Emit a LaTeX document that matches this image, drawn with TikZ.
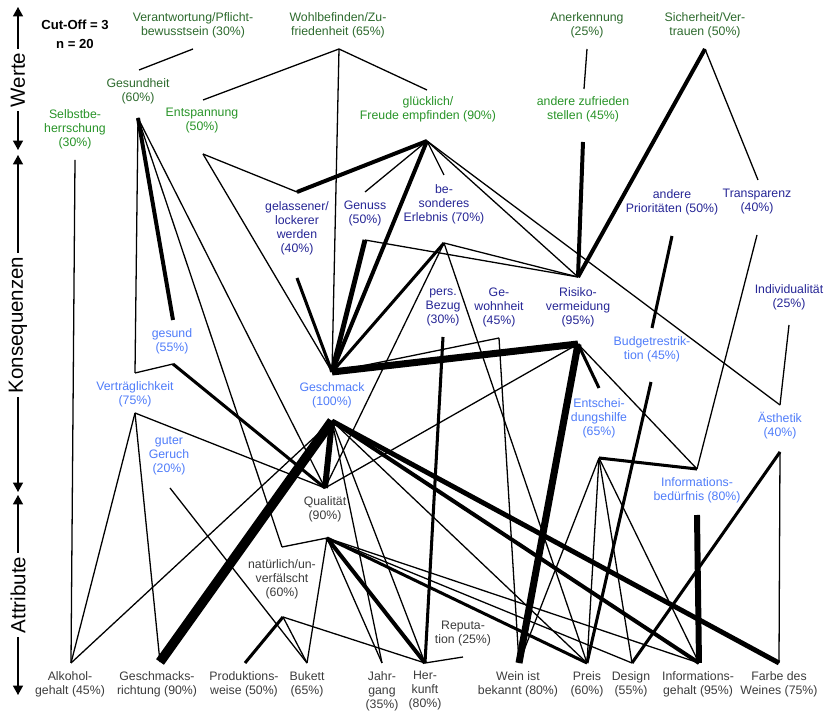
\documentclass[tikz,border=0pt]{standalone}
\usepackage{fontspec}
\setmainfont{Liberation Sans}
\usetikzlibrary{arrows.meta}
\definecolor{tval}{RGB}{46,107,46}
\definecolor{ival}{RGB}{40,148,40}
\definecolor{psy}{RGB}{38,38,150}
\definecolor{fun}{RGB}{80,125,250}
\definecolor{attr}{RGB}{60,60,60}
\begin{document}
\begin{tikzpicture}[x=0.03cm,y=-0.03cm,
  lbl/.style={align=center,inner sep=0pt,font=\fontsize{10.5}{11.95}\selectfont},
  tv/.style={lbl,text=tval},
  iv/.style={lbl,text=ival},
  ps/.style={lbl,text=psy},
  fu/.style={lbl,text=fun},
  atr/.style={lbl,text=attr},
  l1/.style={line width=1.1pt},
  l3/.style={line width=2.6pt},
  l4/.style={line width=3.4pt},
  l5/.style={line width=4.2pt},
  l6/.style={line width=5.1pt},
  l7/.style={line width=6pt},
  l9/.style={line width=8.2pt},
  axis/.style={line width=1.1pt,{Triangle[width=8.5pt,length=8pt]}-{Triangle[width=8.5pt,length=8pt]}},
  axlbl/.style={fill=white,rotate=90,inner sep=3pt,font=\fontsize{17.5}{20}\selectfont}
]
\useasboundingbox (0,0) rectangle (826,713);
\fill[white] (0,0) rectangle (826,713);

% ---------- anchors ----------
\coordinate (veranB) at (193,49);
\coordinate (wohlB) at (339,49);
\coordinate (anerkB) at (587,49);
\coordinate (sicherB) at (705,49);
\coordinate (gesheitT) at (139,70);
\coordinate (gesheitB) at (138,118);
\coordinate (selbstB) at (75,160);
\coordinate (entspT) at (203,100);
\coordinate (entspB) at (203,154);
\coordinate (gluckT) at (427,90);
\coordinate (gluckB) at (427,141);
\coordinate (andzT) at (584,89);
\coordinate (andzB) at (583,142);
\coordinate (gelT) at (297,192);
\coordinate (gelB) at (297,278);
\coordinate (genT) at (365,192);
\coordinate (genB) at (365,240);
\coordinate (besT) at (444,175);
\coordinate (besB) at (444,243);
\coordinate (andpB) at (672,236);
\coordinate (transT) at (758,180);
\coordinate (transB) at (757,235);
\coordinate (indivB) at (789,325);
\coordinate (risT) at (578,277);
\coordinate (risB) at (578,344);
\coordinate (persB) at (443,337);
\coordinate (gewB) at (499,338);
\coordinate (budT) at (652,328);
\coordinate (budB) at (651,382);
\coordinate (entT) at (599,388);
\coordinate (entB) at (599,458);
\coordinate (aesT) at (780,405);
\coordinate (aesB) at (780,452);
\coordinate (infbT) at (697,469);
\coordinate (infbB) at (697,515);
\coordinate (gesT) at (173,320);
\coordinate (gesB) at (173,364);
\coordinate (vertT) at (135,373);
\coordinate (vertB) at (135,413);
\coordinate (geschT) at (332,372);
\coordinate (geschB) at (332,421);
\coordinate (geruchB) at (170,488);
\coordinate (qualT) at (325,488);
\coordinate (qualB) at (327,538);
\coordinate (natT) at (282,547);
\coordinate (natB) at (283,617);
\coordinate (repB) at (463,657);
\coordinate (alkT) at (71,663);
\coordinate (gsrT) at (160,662);
\coordinate (prodT) at (245,663);
\coordinate (bukT) at (307,663);
\coordinate (jahrT) at (382,663);
\coordinate (herkT) at (425,663);
\coordinate (weinT) at (519,663);
\coordinate (preisT) at (587,663);
\coordinate (desT) at (632,663);
\coordinate (infgT) at (699,663);
\coordinate (farbT) at (779,663);

% ---------- connectors ----------
\draw[l1] (veranB) -- (gesheitT);
\draw[l1] (wohlB) -- (entspT);
\draw[l1] (wohlB) -- (geschT);
\draw[l1] (wohlB) -- (gluckT);
\draw[l1] (anerkB) -- (andzT);
\draw[l4] (sicherB) -- (risT);
\draw[l1] (sicherB) -- (transT);
\draw[l1] (gesheitB) -- (vertT);
\draw[l4] (gesheitB) -- (gesT);
\draw[l1] (gesheitB) -- (natT);
\draw[l1] (gesheitB) -- (qualT);
\draw[l1] (selbstB) -- (alkT);
\draw[l1] (entspB) -- (gelT);
\draw[l1] (entspB) -- (geschT);
\draw[l4] (gluckB) -- (gelT);
\draw[l1] (gluckB) -- (genT);
\draw[l1] (gluckB) -- (besT);
\draw[l4] (gluckB) -- (geschT);
\draw[l1] (gluckB) -- (risT);
\draw[l1] (gluckB) -- (aesT);
\draw[l4] (andzB) -- (risT);
\draw[l3] (gelB) -- (geschT);
\draw[l5] (genB) -- (geschT);
\draw[l1] (genB) -- (risT);
\draw[l3] (besB) -- (geschT);
\draw[l1] (besB) -- (risT);
\draw[l1] (besB) -- (qualT);
\draw[l1] (besB) -- (preisT);
\draw[l3] (andpB) -- (budT);
\draw[l1] (transB) -- (infbT);
\draw[l1] (indivB) -- (aesT);
\draw[l7] (risB) -- (geschT);
\draw[l7] (risB) -- (weinT);
\draw[l3] (risB) -- (entT);
\draw[l1] (risB) -- (infbT);
\draw[l1] (risB) -- (qualT);
\draw[l1] (gewB) -- (geschT);
\draw[l1] (gewB) -- (weinT);
\draw[l3] (persB) -- (herkT);
\draw[l3] (budB) -- (preisT);
\draw[l3] (entB) -- (infbT);
\draw[l1] (entB) -- (weinT);
\draw[l1] (entB) -- (preisT);
\draw[l1] (entB) -- (desT);
\draw[l1] (entB) -- (infgT);
\draw[l3] (aesB) -- (desT);
\draw[l1] (aesB) -- (farbT);
\draw[l6] (infbB) -- (infgT);
\draw[l1] (gesB) -- (vertT);
\draw[l3] (gesB) -- (qualT);
\draw[l1] (vertB) -- (alkT);
\draw[l1] (vertB) -- (gsrT);
\draw[l1] (vertB) -- (qualT);
\draw[l1] (geruchB) -- (bukT);
\draw[l9] (geschB) -- (gsrT);
\draw[l6] (geschB) -- (qualT);
\draw[l1] (geschB) -- (alkT);
\draw[l5] (geschB) -- (farbT);
\draw[l4] (geschB) -- (infgT);
\draw[l1] (geschB) -- (preisT);
\draw[l1] (geschB) -- (jahrT);
\draw[l1] (geschB) -- (herkT);
\draw[l1] (qualB) -- (natT);
\draw[l1] (qualB) -- (bukT);
\draw[l1] (qualB) -- (jahrT);
\draw[l4] (qualB) -- (herkT);
\draw[l3] (qualB) -- (preisT);
\draw[l1] (qualB) -- (desT);
\draw[l1] (qualB) -- (infgT);
\draw[l3] (natB) -- (prodT);
\draw[l1] (natB) -- (bukT);
\draw[l1] (natB) -- (herkT);
\draw[l1] (herkT) -- (repB);

% ---------- axis ----------
\coordinate (ax1) at (18,7);
\coordinate (ax2) at (18,150);
\coordinate (ax3) at (18,155);
\coordinate (ax4) at (18,492);
\coordinate (ax5) at (18,495);
\coordinate (ax6) at (18,695);
\draw[axis] (ax1) -- (ax2);
\draw[axis] (ax3) -- (ax4);
\draw[axis] (ax5) -- (ax6);
\node[axlbl] (werte) at (18,80) {Werte};
\node[axlbl] (kons) at (18,325) {Konsequenzen};
\node[axlbl] (attrib) at (18,595) {Attribute};

% ---------- labels ----------
\node[lbl,font=\bfseries\fontsize{11.2}{16}\selectfont] (cut) at (75,34) {Cut-Off = 3\\n = 20};
\node[tv] (veran) at (193,25) {Verantwortung/Pflicht-\\bewusstsein (30\%)};
\node[tv] (wohl) at (338,25) {Wohlbefinden/Zu-\\friedenheit (65\%)};
\node[tv] (anerk) at (587,25) {Anerkennung\\(25\%)};
\node[tv] (sicher) at (705,25) {Sicherheit/Ver-\\trauen (50\%)};
\node[tv] (gesheit) at (138,91) {Gesundheit\\(60\%)};
\node[iv] (selbst) at (75,129) {Selbstbe-\\herrschung\\(30\%)};
\node[iv] (entsp) at (202,121) {Entspannung\\(50\%)};
\node[iv] (gluck) at (428,109) {glücklich/\\Freude empfinden (90\%)};
\node[iv] (andz) at (583,109) {andere zufrieden\\stellen (45\%)};
\node[ps] (gel) at (297,228.5) {gelassener/\\lockerer\\werden\\(40\%)};
\node[ps] (gen) at (365,213) {Genuss\\(50\%)};
\node[ps] (bes) at (444,204) {be-\\sonderes\\Erlebnis (70\%)};
\node[ps] (andp) at (672,202) {andere\\Prioritäten (50\%)};
\node[ps] (trans) at (757,202) {Transparenz\\(40\%)};
\node[ps] (indiv) at (789,297.5) {Individualität\\(25\%)};
\node[ps] (pers) at (443,307) {pers.\\Bezug\\(30\%)};
\node[ps] (gew) at (499,307) {Ge-\\wohnheit\\(45\%)};
\node[ps] (ris) at (578,307) {Risiko-\\vermeidung\\(95\%)};
\node[fu] (bud) at (652,349) {Budgetrestrik-\\tion (45\%)};
\node[fu] (ent) at (599,418) {Entschei-\\dungshilfe\\(65\%)};
\node[fu] (aes) at (780,426) {Ästhetik\\(40\%)};
\node[fu] (infb) at (697,490) {Informations-\\bedürfnis (80\%)};
\node[fu] (ges) at (172,341) {gesund\\(55\%)};
\node[fu] (vert) at (135,394) {Verträglichkeit\\(75\%)};
\node[fu] (gesch) at (332,395) {Geschmack\\(100\%)};
\node[fu] (geruch) at (169,456) {guter\\Geruch\\(20\%)};
\node[atr] (qual) at (325,509.5) {Qualität\\(90\%)};
\node[atr] (nat) at (282,579) {natürlich/un-\\verfälscht\\(60\%)};
\node[atr] (rep) at (463,633.5) {Reputa-\\tion (25\%)};
\node[atr] (alk) at (70,684) {Alkohol-\\gehalt (45\%)};
\node[atr] (gsr) at (157,684) {Geschmacks-\\richtung (90\%)};
\node[atr] (prod) at (244,684) {Produktions-\\weise (50\%)};
\node[atr] (buk) at (307,684) {Bukett\\(65\%)};
\node[atr] (jahr) at (382,691) {Jahr-\\gang\\(35\%)};
\node[atr] (herk) at (425,691) {Her-\\kunft\\(80\%)};
\node[atr] (wein) at (518,684) {Wein ist\\bekannt (80\%)};
\node[atr] (preis) at (587,684) {Preis\\(60\%)};
\node[atr] (des) at (631,684) {Design\\(55\%)};
\node[atr] (infg) at (698,684) {Informations-\\gehalt (95\%)};
\node[atr] (farb) at (779,684) {Farbe des\\Weines (75\%)};
\end{tikzpicture}
\end{document}
